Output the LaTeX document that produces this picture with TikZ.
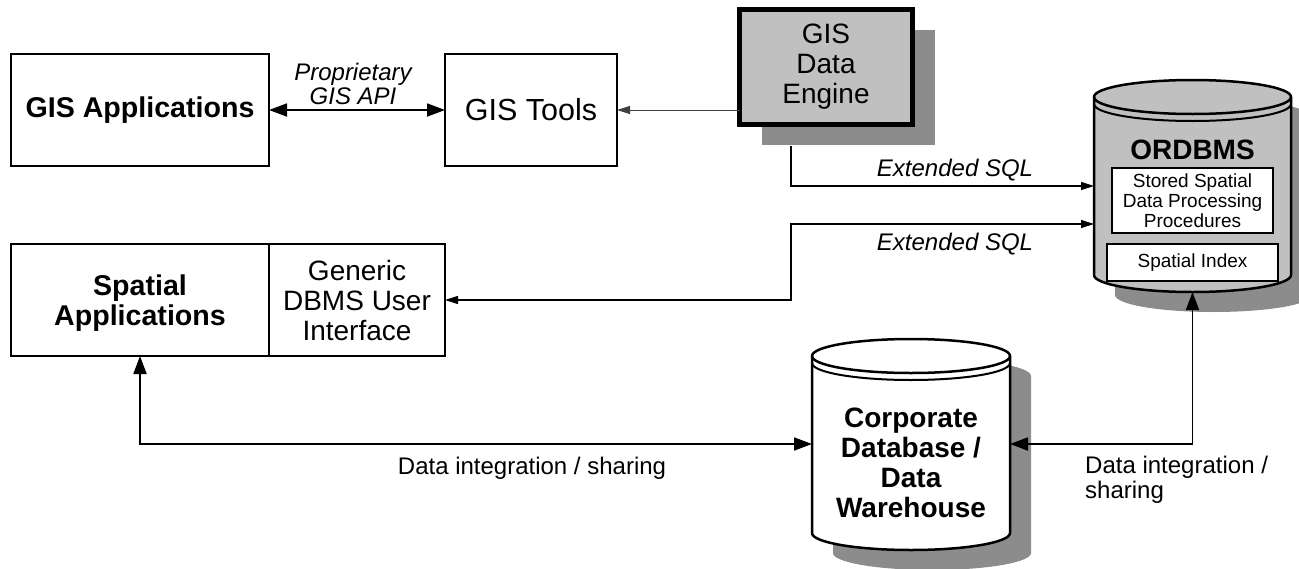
\documentclass[tikz,border=0pt]{standalone}
\usepackage{fontspec}
\setmainfont{Liberation Sans}
\usetikzlibrary{arrows.meta, positioning, shadows, calc}
\definecolor{engfill}{HTML}{C0C0C0}
\definecolor{shadegray}{HTML}{8C8C8C}
\tikzset{
    box/.style={draw, line width=2pt, fill=white, align=center, outer sep=0pt,
        font=\fontsize{28}{30}\selectfont},
    boldbox/.style={box, font=\fontsize{28.6}{30}\selectfont\bfseries},
    smallbox/.style={draw, line width=1.5pt, fill=white, align=center, outer sep=0pt,
        font=\fontsize{19}{20}\selectfont},
    engine/.style={draw, line width=5pt, fill=engfill, align=center, outer sep=0pt,
        minimum width=173pt, minimum height=115pt, font=\fontsize{28}{30}\selectfont,
        drop shadow={shadow xshift=22pt, shadow yshift=-20pt, fill=shadegray, opacity=1}},
    anchorbox/.style={inner sep=0pt, outer sep=0pt},
    lbl/.style={align=center, inner sep=0pt, font=\fontsize{24}{24}\selectfont\itshape},
    plainlbl/.style={align=left, inner sep=0pt, font=\fontsize{24}{25}\selectfont},
    dbl/.style={line width=1.8pt, {Triangle[length=18pt,width=13pt]}-{Triangle[length=18pt,width=13pt]}},
    sqlarrow/.style={line width=1.1pt, -{Triangle[length=13pt,width=8pt]}},
    sqldbl/.style={line width=1.1pt, {Triangle[length=13pt,width=8pt]}-{Triangle[length=13pt,width=8pt]}},
}
% database can: centre x, top rim y, bottom rim y, half width, fill
\newcommand\dbcan[5]{%
    \begin{scope}[shift={(21,20)}]
    \fill[shadegray] ({#1-#4},#2) -- ({#1-#4},#3)
        arc[start angle=180, end angle=360, x radius=#4pt, y radius=17pt] -- ({#1+#4},#2)
        arc[start angle=0, end angle=180, x radius=#4pt, y radius=17pt] -- cycle;
    \end{scope}
    \filldraw[fill=#5, line width=2.5pt] ({#1-#4},#2) -- ({#1-#4},#3)
        arc[start angle=180, end angle=360, x radius=#4pt, y radius=17pt] -- ({#1+#4},#2)
        arc[start angle=0, end angle=180, x radius=#4pt, y radius=17pt] -- cycle;
    \draw[line width=2.5pt] ({#1-#4},#2)
        arc[start angle=180, end angle=360, x radius=#4pt, y radius=17pt];
    \draw[line width=2pt] ({#1-#4},{#2+7})
        arc[start angle=180, end angle=360, x radius=#4pt, y radius=17pt];
}

\begin{document}
\begin{tikzpicture}[x=1pt, y=-1pt]
    \useasboundingbox (0,0) rectangle (1299,568);
    % top row
    \node[boldbox, minimum width=258pt, minimum height=112pt] (gisapp) at (140,110) {GIS Applications};
    \node[box, minimum width=172pt, minimum height=112pt, font=\fontsize{30.5}{32}\selectfont] (gistools) at (531,110) {GIS Tools};
    \node[engine] (engine) at (826,67) {GIS\\Data\\Engine};
    % middle row
    \node[boldbox, minimum width=258pt, minimum height=112pt, text depth=-4pt] (spatial) at (140,300) {Spatial\\Applications};
    \node[box, anchor=west, minimum width=176pt, minimum height=112pt] (generic) at (spatial.east) {Generic\\DBMS User\\Interface};
    % ORDBMS
    \dbcan{1192.5}{97}{275}{98.5}{engfill}
    \node[anchorbox, minimum width=197pt, minimum height=212pt] (ordbms) at (1192.5,186) {};
    \node[font=\fontsize{28}{30}\selectfont\bfseries] (ordlbl) at (1192.5,150) {ORDBMS};
    \node[smallbox, minimum width=161pt, minimum height=65pt] (stored) at (1192.5,200.5) {Stored Spatial\\Data Processing\\Procedures};
    \node[smallbox, minimum width=171pt, minimum height=37pt] (spidx) at (1192.5,262.5) {Spatial Index};
    % corporate database
    \dbcan{911}{356}{533}{99}{white}
    \node[anchorbox, minimum width=198pt, minimum height=212pt] (corpdb) at (911,444) {};
    \node[align=center, font=\fontsize{28}{30}\selectfont\bfseries] (corptxt) at (911,463) {Corporate\\Database /\\Data\\Warehouse};
    % connectors
    \draw[dbl] (gisapp) -- (gistools);
    \node[lbl] (propl) at (353,84) {Proprietary\\GIS API};
    \draw[line width=1pt, black!75, -{Triangle[length=13pt,width=8pt]}] (engine.west |- gistools.east) -- (gistools.east);
    \coordinate (sqlsrc) at (791,146);
    \draw[sqlarrow] (sqlsrc) |- (ordbms.west);
    \node[lbl] (sqll1) at (955,170) {Extended SQL};
    \draw[sqldbl] ([yshift=-38pt]ordbms.west) -| (sqlsrc |- generic.east) -- (generic.east);
    \node[lbl] (sqll2) at (955,244) {Extended SQL};
    \draw[dbl] (spatial.south) |- (corpdb.west);
    \node[plainlbl] (intl1) at (532,468) {Data integration / sharing};
    \draw[dbl] (corpdb.east) -| (ordbms.south);
    \node[plainlbl, anchor=west] (intl2) at (1085,480) {Data integration /\\sharing};
\end{tikzpicture}
\end{document}
